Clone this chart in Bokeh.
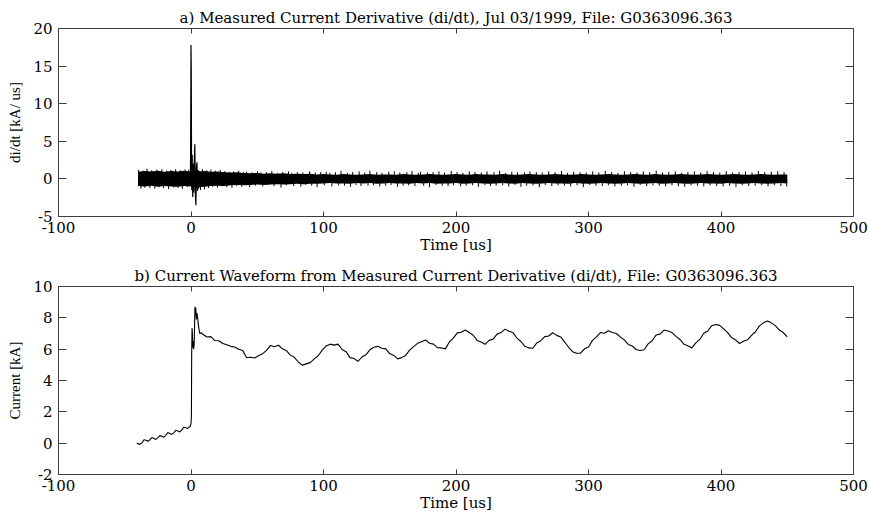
from bokeh.plotting import figure
from bokeh.models import LinearAxis, Range1d, FixedTicker, ColumnDataSource
from bokeh.layouts import column
from bokeh.embed import file_html
from bokeh.resources import INLINE

# ---------------- data ----------------
title_a = "a) Measured Current Derivative (di/dt), Jul 03/1999, File: G0363096.363"
title_b = "b) Current Waveform from Measured Current Derivative (di/dt), File: G0363096.363"
x_label = "Time [us]"
y_label_a = "di/dt [kA/ us]"
y_label_b = "Current [kA]"

x_ticks = [-100, 0, 100, 200, 300, 400, 500]
x_tick_labels = ["-100", "0", "100", "200", "300", "400", "500"]
ya_ticks = [-5, 0, 5, 10, 15, 20]
ya_tick_labels = ["-5", "0", "5", "10", "15", "20"]
yb_ticks = [-2, 0, 2, 4, 6, 8, 10]
yb_tick_labels = ["-2", "0", "2", "4", "6", "8", "10"]

# di/dt noise band: solid envelope read every 5 us from -40 to 450 us
env_t = list(range(-40, 451, 5))
env_hi = [0.95, 1.05, 1.0, 1.1, 0.95, 1.05, 1.0, 1.1, 1.0, 1.0,
          1.05, 0.95, 1.0, 0.9, 0.85, 0.9, 0.8, 0.75, 0.8, 0.7,
          0.75, 0.7, 0.75, 0.65, 0.7, 0.65, 0.7, 0.6, 0.65,
          0.6, 0.55, 0.65, 0.6, 0.55, 0.6, 0.65, 0.55, 0.6, 0.6,
          0.55, 0.65, 0.6, 0.55, 0.6, 0.65, 0.6, 0.55, 0.6, 0.65,
          0.6, 0.55, 0.65, 0.6, 0.6, 0.55, 0.65, 0.6, 0.55, 0.6,
          0.65, 0.6, 0.55, 0.6, 0.65, 0.6, 0.55, 0.6, 0.65, 0.6,
          0.55, 0.6, 0.65, 0.6, 0.55, 0.6, 0.65, 0.6, 0.55, 0.65,
          0.6, 0.55, 0.6, 0.65, 0.6, 0.55, 0.6, 0.65, 0.6, 0.55,
          0.6, 0.65, 0.6, 0.55, 0.6, 0.65, 0.6, 0.55, 0.6, 0.6]
env_lo = [-0.95, -1.0, -0.9, -1.05, -0.95, -1.0, -1.05, -0.95, -1.0, -1.1,
          -1.05, -0.95, -0.9, -0.95, -0.85, -0.8, -0.85, -0.8, -0.75, -0.8,
          -0.75, -0.7, -0.75, -0.7, -0.65, -0.7, -0.65, -0.65, -0.6,
          -0.55, -0.6, -0.6, -0.65, -0.55, -0.6, -0.55, -0.65, -0.6, -0.55,
          -0.6, -0.6, -0.65, -0.55, -0.6, -0.55, -0.65, -0.6, -0.6, -0.55,
          -0.65, -0.6, -0.55, -0.6, -0.65, -0.6, -0.55, -0.6, -0.65, -0.55,
          -0.6, -0.65, -0.6, -0.55, -0.6, -0.6, -0.65, -0.55, -0.6, -0.65,
          -0.6, -0.55, -0.6, -0.65, -0.6, -0.55, -0.6, -0.65, -0.6, -0.55,
          -0.65, -0.6, -0.55, -0.6, -0.65, -0.6, -0.55, -0.6, -0.6, -0.65,
          -0.55, -0.6, -0.65, -0.6, -0.55, -0.6, -0.65, -0.6, -0.55, -0.6]

# isolated noise excursions beyond the solid band
spk_t = [-39.5, -37.8, -36.1, -34.9, -33.2, -31.0, -29.6, -27.3, -25.8, -24.1, -22.0, -20.7,
         -18.4, -16.9, -15.2, -13.0, -11.6, -9.8, -8.1, -6.5, -4.4, -2.9, -1.8,
         7.2, 8.6, 10.1, 11.9, 13.2, 15.0, 16.4, 18.3, 19.9, 22.1, 23.4, 25.6, 27.0, 28.8,
         30.9, 32.2, 34.5, 36.0, 38.3, 39.7,
         42.0, 44.3, 45.9, 48.6, 50.2, 52.8, 54.1, 56.9, 58.3, 61.0, 62.7, 65.4, 67.9, 69.2,
         72.0, 73.6, 76.1, 77.5, 80.3, 82.9, 84.4, 86.7, 89.5, 91.1, 93.8, 95.2, 97.9,
         100.6, 102.1, 104.8, 106.3, 109.0, 111.4, 113.2, 115.9, 118.1, 120.4, 122.0, 124.7,
         126.9, 128.3, 131.1, 133.6, 135.0, 137.8, 140.2, 142.5, 144.1, 146.9, 149.3, 151.0,
         153.4, 155.8, 157.6, 160.1, 162.9, 164.3, 166.8, 169.0, 171.5, 173.2, 175.6, 178.4,
         180.0, 182.7, 184.9, 187.1, 189.6, 191.3, 194.0, 196.4, 198.1, 200.8, 203.5, 205.2,
         207.7, 210.0, 212.6, 214.3, 216.9, 219.1, 221.8, 223.4, 226.0, 228.7, 230.3, 232.9,
         235.2, 237.5, 239.8, 242.1, 244.6, 246.3, 249.0, 251.7, 253.3, 255.8, 258.2, 260.6,
         262.9, 265.1, 267.4, 270.0, 272.3, 274.8, 277.0, 279.6, 281.9, 284.2, 286.5, 288.8,
         291.4, 293.7, 296.1, 298.3, 300.9, 303.2, 305.6, 307.8, 310.4, 312.7, 315.0, 317.5,
         319.9, 322.2, 324.8, 327.1, 329.5, 331.8, 334.3, 336.6, 339.0, 341.4, 343.9, 346.2,
         348.7, 351.1, 353.4, 355.9, 358.2, 360.6, 363.0, 365.5, 367.8, 370.3, 372.6, 375.0,
         377.4, 379.9, 382.2, 384.7, 387.0, 389.5, 391.8, 394.3, 396.7, 399.1, 401.6, 404.0,
         406.5, 408.8, 411.3, 413.6, 416.1, 418.5, 420.9, 423.4, 425.8, 428.2, 430.7, 433.0,
         435.5, 437.9, 440.3, 442.8, 445.2, 447.6, 449.6]
spk_v = [1.2, -1.3, 1.1, -1.15, 1.35, -1.2, 1.15, -1.3, 1.25, -1.1, 1.3, -1.25,
         1.1, -1.35, 1.2, -1.15, 1.3, -1.2, 1.15, -1.3, 1.25, -1.1, 1.2,
         -1.5, 1.3, -1.4, 1.15, -1.2, 1.25, -1.05, 1.1, -1.15, 1.2, -1.0, 1.05, -1.1, 0.95,
         -1.2, 1.0, -0.95, 1.1, -1.05, 0.9,
         0.95, -1.1, 0.85, -0.9, 1.0, 0.85, -1.0, 0.9, -0.8, 1.05, -0.95, 0.8, -1.15, 0.9,
         -0.85, 1.0, 0.8, -0.95, 0.9, -1.05, 0.85, -0.8, 1.0, -0.9, 0.85, -1.1, 0.9,
         -0.85, 0.95, 0.8, -1.0, 0.9, -0.85, 1.05, -0.9, 0.8, -1.05, 0.9, -0.8,
         1.0, -0.95, 0.85, -0.9, 1.1, -0.85, 0.9, -1.0, 0.8, -0.9, 0.95, -0.8,
         1.0, -1.05, 0.85, -0.9, 0.9, -0.85, 1.05, -0.95, 0.8, 0.95, -0.9, 0.85,
         -1.1, 0.9, -0.8, 1.0, -0.9, 0.85, -0.95, 1.05, -0.85, 0.9, -1.0, 0.8,
         -0.9, 1.0, -0.85, 0.9, -1.05, 0.85, -0.8, 1.0, -0.95, 0.9, -0.9, 1.1,
         -0.85, 0.8, -1.0, 0.95, -0.8, 0.9, -1.05, 0.85, -0.9, 1.0, -0.85, 0.9,
         -1.1, 0.85, -0.8, 1.0, -0.95, 0.9, -0.85, 1.05, -0.9, 0.8, -1.0, 0.95,
         -0.85, 0.9, -1.1, 0.85, -0.8, 1.0, -0.9, 0.85, -0.95, 1.05, -0.85, 0.9,
         -1.0, 0.8, -0.9, 1.0, -0.85, 0.9, -1.05, 0.85, -0.8, 1.0, -0.95, 0.9,
         -0.85, 1.1, -0.9, 0.85, -1.0, 0.9, -0.85, 1.0, -0.95, 0.8, -1.05, 0.9,
         -0.85, 1.0, -0.9, 0.85, -1.0, 1.05, -0.85, 0.9, -0.95, 0.85, -1.0, 1.0,
         -0.9, 0.85, -1.05, 0.9, -0.85, 1.0, -0.95, 0.85, -0.9, 1.05, -0.85, 0.9,
         -1.0, 0.95, -0.85, 1.0, -0.95, 0.9, -1.0]

# the return-stroke pulse in di/dt
pulse_t = [-1.0, -0.6, -0.3, 0.0, 0.2, 0.4, 0.6, 0.9, 1.3, 1.7, 2.1, 2.5, 2.9,
           3.3, 3.7, 4.1, 4.5, 4.9, 5.3, 5.8, 6.3, 7.0]
pulse_v = [0.8, -0.9, 3.0, 17.8, 14.5, 2.5, -1.5, 3.2, -2.4, 2.0, -1.8, 2.5, 4.6,
           -2.0, -3.5, 1.5, 2.2, -1.6, 1.2, -1.3, 1.0, -0.8]

# current waveform
pre_t = [-41, -40, -38.5, -37, -35.5, -34, -32.5, -31, -29.5, -28, -26.5, -25, -23.5,
         -22, -20.5, -19, -17.5, -16, -14.5, -13, -11.5, -10, -8.5, -7, -5.5, -4,
         -2.5, -1.5, -0.5]
pre_v = [0.00, -0.03, -0.08, 0.02, 0.22, 0.18, 0.12, 0.22, 0.36, 0.30, 0.24, 0.34, 0.48,
         0.44, 0.38, 0.50, 0.68, 0.62, 0.56, 0.66, 0.82, 0.78, 0.72, 0.84, 1.02, 0.98,
         0.94, 1.02, 1.08]
stroke_t = [0.0, 0.3, 0.5, 0.8, 1.1, 1.4, 1.7, 2.0, 2.4, 2.7, 3.0, 3.3, 3.6, 4.0, 4.5,
            5.0, 5.5, 6.0, 6.6, 7.5]
stroke_v = [1.25, 1.7, 5.6, 7.35, 6.9, 6.1, 6.5, 6.0, 6.3, 7.5, 8.7, 8.2, 8.65, 7.9, 8.3,
            8.0, 7.6, 7.3, 7.0, 7.05]
tail_t = list(range(9, 451, 3))
tail_v = [6.95, 6.78, 6.80, 6.55, 6.54, 6.36, 6.28, 6.18, 6.14, 6.00,
          5.92, 5.45, 5.48, 5.44, 5.58, 5.70, 5.92, 6.24, 6.16, 6.25,
          6.02, 5.90, 5.62, 5.48, 5.18, 4.98, 5.06, 5.14, 5.38, 5.58,
          5.94, 6.20, 6.32, 6.26, 6.32, 5.98, 5.84, 5.46, 5.40, 5.22,
          5.50, 5.64, 5.96, 6.12, 6.18, 6.06, 6.02, 5.72, 5.60, 5.38,
          5.46, 5.60, 5.94, 6.16, 6.37, 6.48, 6.59, 6.38, 6.32, 6.10,
          6.08, 6.02, 6.46, 6.70, 7.04, 7.08, 7.22, 7.06, 6.89, 6.56,
          6.46, 6.31, 6.56, 6.64, 6.96, 7.06, 7.28, 7.14, 7.06, 6.71,
          6.49, 6.18, 6.08, 6.06, 6.40, 6.54, 6.80, 6.84, 7.05, 6.88,
          6.78, 6.46, 6.12, 5.84, 5.74, 5.74, 6.02, 6.14, 6.56, 6.78,
          7.06, 7.02, 7.18, 7.06, 7.00, 6.78, 6.59, 6.30, 6.20, 5.98,
          5.92, 5.96, 6.34, 6.54, 6.90, 6.96, 7.22, 7.16, 7.06, 6.82,
          6.62, 6.32, 6.22, 6.08, 6.40, 6.62, 7.02, 7.16, 7.50, 7.58,
          7.52, 7.30, 7.06, 6.74, 6.59, 6.36, 6.50, 6.60, 6.88, 7.11,
          7.49, 7.68, 7.80, 7.68, 7.50, 7.22, 7.06, 6.78]

# ---------------- styling ----------------
FONT = "DejaVu Serif"
YFONT = "Liberation Serif"
AX = "#3c3c3c"


def tick_axis(axis, ticks, labels, tick_len, show_labels):
    axis.ticker = FixedTicker(ticks=ticks)
    axis.major_label_overrides = {t: l for t, l in zip(ticks, labels)}
    axis.major_tick_in = tick_len
    axis.major_tick_out = 0
    axis.minor_tick_in = 0
    axis.minor_tick_out = 0
    axis.axis_line_color = AX
    axis.major_tick_line_color = AX
    axis.major_label_text_font = FONT
    if show_labels:
        axis.major_label_text_font_size = "15px"
        axis.major_label_text_color = "black"
        axis.major_label_standoff = 5
    else:
        axis.major_label_text_font_size = "0px"
        axis.major_label_text_color = None
        axis.major_label_standoff = 0


def make_fig(height, top, bottom, yr, yt, ytl, title, ylabel):
    p = figure(width=869, height=height, x_range=Range1d(-100, 500),
               y_range=Range1d(*yr), output_backend="svg", toolbar_location=None,
               min_border_left=58, min_border_right=16, min_border_top=top,
               min_border_bottom=bottom, title=title)
    p.grid.visible = False
    p.outline_line_color = None
    p.background_fill_color = "white"
    p.border_fill_color = "white"
    p.title.text_font = FONT
    p.title.text_font_size = "15px"
    p.title.text_font_style = "normal"
    p.title.text_color = "black"
    p.title.align = "center"
    p.title.standoff = 4

    xa = p.xaxis[0]
    tick_axis(xa, x_ticks, x_tick_labels, 5, True)
    xa.axis_label = x_label
    xa.axis_label_text_font = FONT
    xa.axis_label_text_font_size = "15px"
    xa.axis_label_text_font_style = "normal"
    xa.axis_label_text_color = "black"
    xa.axis_label_standoff = 0

    ya = p.yaxis[0]
    tick_axis(ya, yt, ytl, 8, True)
    ya.major_label_standoff = 6
    ya.axis_label = ylabel
    ya.axis_label_text_font = YFONT
    ya.axis_label_text_font_size = "15px"
    ya.axis_label_text_font_style = "normal"
    ya.axis_label_text_color = "black"
    ya.axis_label_standoff = 7

    top_ax = LinearAxis()
    tick_axis(top_ax, x_ticks, x_tick_labels, 5, False)
    p.add_layout(top_ax, "above")
    right_ax = LinearAxis()
    tick_axis(right_ax, yt, ytl, 8, False)
    p.add_layout(right_ax, "right")
    return p


p1 = make_fig(257, 28, 41, (-5, 20), ya_ticks, ya_tick_labels, title_a, y_label_a)
p1.varea(x=env_t, y1=env_lo, y2=env_hi, fill_color="black")
p1.segment(x0=spk_t, y0=[0] * len(spk_t), x1=spk_t, y1=spk_v, line_color="black", line_width=1)
p1.line(pulse_t, pulse_v, line_color="black", line_width=1.2)

p2 = make_fig(257, 29, 38, (-2, 10), yb_ticks, yb_tick_labels, title_b, y_label_b)
src = ColumnDataSource(dict(t=pre_t + stroke_t + tail_t, v=pre_v + stroke_v + tail_v))
p2.line("t", "v", source=src, line_color="black", line_width=1.1)

layout = column(p1, p2)
open("out.html", "w").write(file_html(layout, INLINE))
